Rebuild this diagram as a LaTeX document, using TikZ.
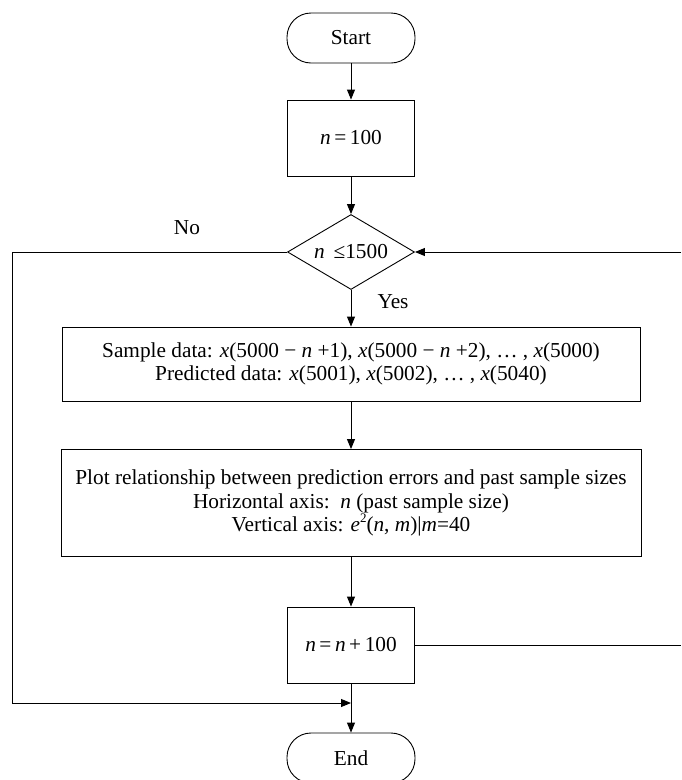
\documentclass[tikz,border=0pt]{standalone}
\usepackage{fontspec}
\setmainfont{Liberation Serif}
\usetikzlibrary{arrows.meta,shapes.geometric}
\begin{document}
\begin{tikzpicture}[x=1pt,y=-1pt,
  line width=0.9pt,
  every node/.style={font=\fontsize{21.3}{23.5}\selectfont, inner sep=0pt},
  term/.style={draw, rectangle, rounded corners=24pt, minimum width=128pt, minimum height=50pt},
  proc/.style={draw, rectangle, align=center},
  dec/.style={draw, diamond, aspect=1.7, minimum width=127pt, minimum height=75pt},
  arr/.style={-{Triangle[length=10pt,width=8pt]}},
  lab/.style={font=\fontsize{21.3}{23.5}\selectfont}]
\useasboundingbox (0,0) rectangle (681,780);
\node[term] (start) at (351,38) {Start};
\node[proc, minimum width=127pt, minimum height=76pt] (init) at (351,138) {\textit{n}\,=\,100};
\node[dec] (test) at (351,252) {\textit{n}\ \,≤1500};
\node[proc, minimum width=578pt, minimum height=74pt] (data) at (351,364)
  {Sample data: \textit{x}(5000 − \textit{n} +1), \textit{x}(5000 − \textit{n} +2), … , \textit{x}(5000)\\
   Predicted data: \textit{x}(5001), \textit{x}(5002), … , \textit{x}(5040)};
\node[proc, minimum width=580pt, minimum height=107pt] (plot) at (351,503)
  {Plot relationship between prediction errors and past sample sizes\\
   Horizontal axis:\ \ \textit{n} (past sample size)\\
   Vertical axis: \textit{e}\raisebox{0.45em}{\fontsize{13}{14}\selectfont 2}(\textit{n}, \textit{m})|\textit{m}=40};
\node[proc, minimum width=127pt, minimum height=76pt] (incr) at (351,645) {\textit{n}\,=\,\textit{n}\,+\,100};
\node[term] (end) at (351,758) {End};
\node[lab] (no) at (187,228) {No};
\node[lab] (yes) at (393,302) {Yes};
\coordinate (rin) at (681,252);
\coordinate (rout) at (681,645);
\coordinate (lc) at (12,252);
\coordinate (lb) at (12,703);
\coordinate (join) at (351,703);
\draw[arr] (start) -- (init);
\draw[arr] (init) -- (test);
\draw[arr] (test) -- (data);
\draw[arr] (data) -- (plot);
\draw[arr] (plot) -- (incr);
\draw[arr] (incr) -- (end);
\draw[arr] (rin) -- (test.east);
\draw (incr.east) -- (rout);
\draw[arr] (test.west) -- (lc) -- (lb) -- (join);
\end{tikzpicture}
\end{document}
